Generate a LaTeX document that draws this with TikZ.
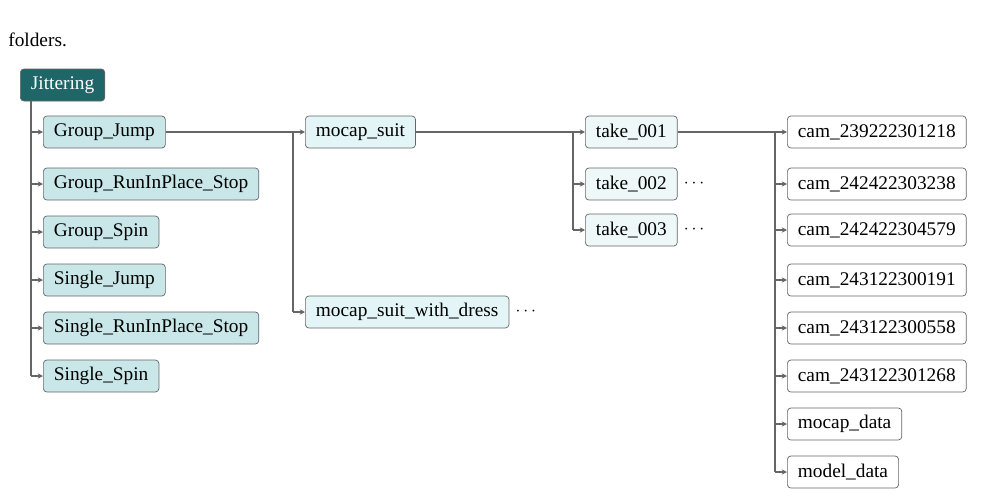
\documentclass[tikz,border=0pt]{standalone}
\usepackage{fontspec}
\setmainfont{Liberation Serif}
\usetikzlibrary{positioning}
\usetikzlibrary{arrows.meta}
\definecolor{rootc}{HTML}{1F6668}
\definecolor{actc}{HTML}{C9E7E9}
\definecolor{suitc}{HTML}{E3F5F7}
\definecolor{takec}{HTML}{EEF8F9}
\definecolor{linec}{HTML}{666666}
\tikzset{
  box/.style={draw=linec, rounded corners=2pt, minimum height=0.64cm, inner xsep=6pt, anchor=west, font=\fontsize{11}{12}\selectfont},
  root/.style={box, fill=rootc, text=white},
  act/.style={box, fill=actc},
  suit/.style={box, fill=suitc},
  take/.style={box, fill=takec},
  cam/.style={box, fill=white},
  link/.style={linec, thick, -{Stealth[length=3pt,width=3pt]}},
  trunk/.style={linec, thick}
}
\begin{document}
\begin{tikzpicture}[x=0.02cm, y=-0.02cm]
\useasboundingbox (0,0) rectangle (997,501);
%caption tail
\node[anchor=west, font=\fontsize{11}{12}\selectfont, inner sep=0pt] (cap) at (8,40) {folders.};
%root
\node[root] (jit) at (20,85) {Jittering};
%actions
\node[act] (gj) at (43,132) {Group\_Jump};
\node[act] (gr) at (43,184) {Group\_RunInPlace\_Stop};
\node[act] (gs) at (43,232) {Group\_Spin};
\node[act] (sj) at (43,280) {Single\_Jump};
\node[act] (sr) at (43,328) {Single\_RunInPlace\_Stop};
\node[act] (ss) at (43,376) {Single\_Spin};
%suits
\node[suit] (ms) at (305,132) {mocap\_suit};
\node[suit] (md) at (305,312) {mocap\_suit\_with\_dress};
\node[anchor=west] (mddots) at (md.east) {$\cdots$};
%takes
\node[take] (t1) at (585,132) {take\_001};
\node[take] (t2) at (585,184) {take\_002};
\node[take] (t3) at (585,230) {take\_003};
\node[anchor=west] (t2dots) at (t2.east) {$\cdots$};
\node[anchor=west] (t3dots) at (t3.east) {$\cdots$};
%cameras and data
\node[cam] (c1) at (787,132) {cam\_239222301218};
\node[cam] (c2) at (787,184) {cam\_242422303238};
\node[cam] (c3) at (787,230) {cam\_242422304579};
\node[cam] (c4) at (787,280) {cam\_243122300191};
\node[cam] (c5) at (787,328) {cam\_243122300558};
\node[cam] (c6) at (787,376) {cam\_243122301268};
\node[cam] (c7) at (787,424) {mocap\_data};
\node[cam] (c8) at (787,472) {model\_data};
%trunks
\coordinate (j0) at (31,0);
\draw[trunk] (jit.south -| j0) -- (ss.west -| j0);
\foreach \n in {gj,gr,gs,sj,sr,ss}
  \draw[link] (\n.west -| j0) -- (\n.west);
\coordinate (m0) at (293,0);
\draw[trunk] (gj.east) -- (ms.west -| m0) -- (md.west -| m0);
\foreach \n in {ms,md}
  \draw[link] (\n.west -| m0) -- (\n.west);
\coordinate (k0) at (573,0);
\draw[trunk] (ms.east) -- (t1.west -| k0) -- (t3.west -| k0);
\foreach \n in {t1,t2,t3}
  \draw[link] (\n.west -| k0) -- (\n.west);
\coordinate (c0) at (775,0);
\draw[trunk] (t1.east) -- (c1.west -| c0) -- (c8.west -| c0);
\foreach \n in {c1,c2,c3,c4,c5,c6,c7,c8}
  \draw[link] (\n.west -| c0) -- (\n.west);
\end{tikzpicture}
\end{document}
